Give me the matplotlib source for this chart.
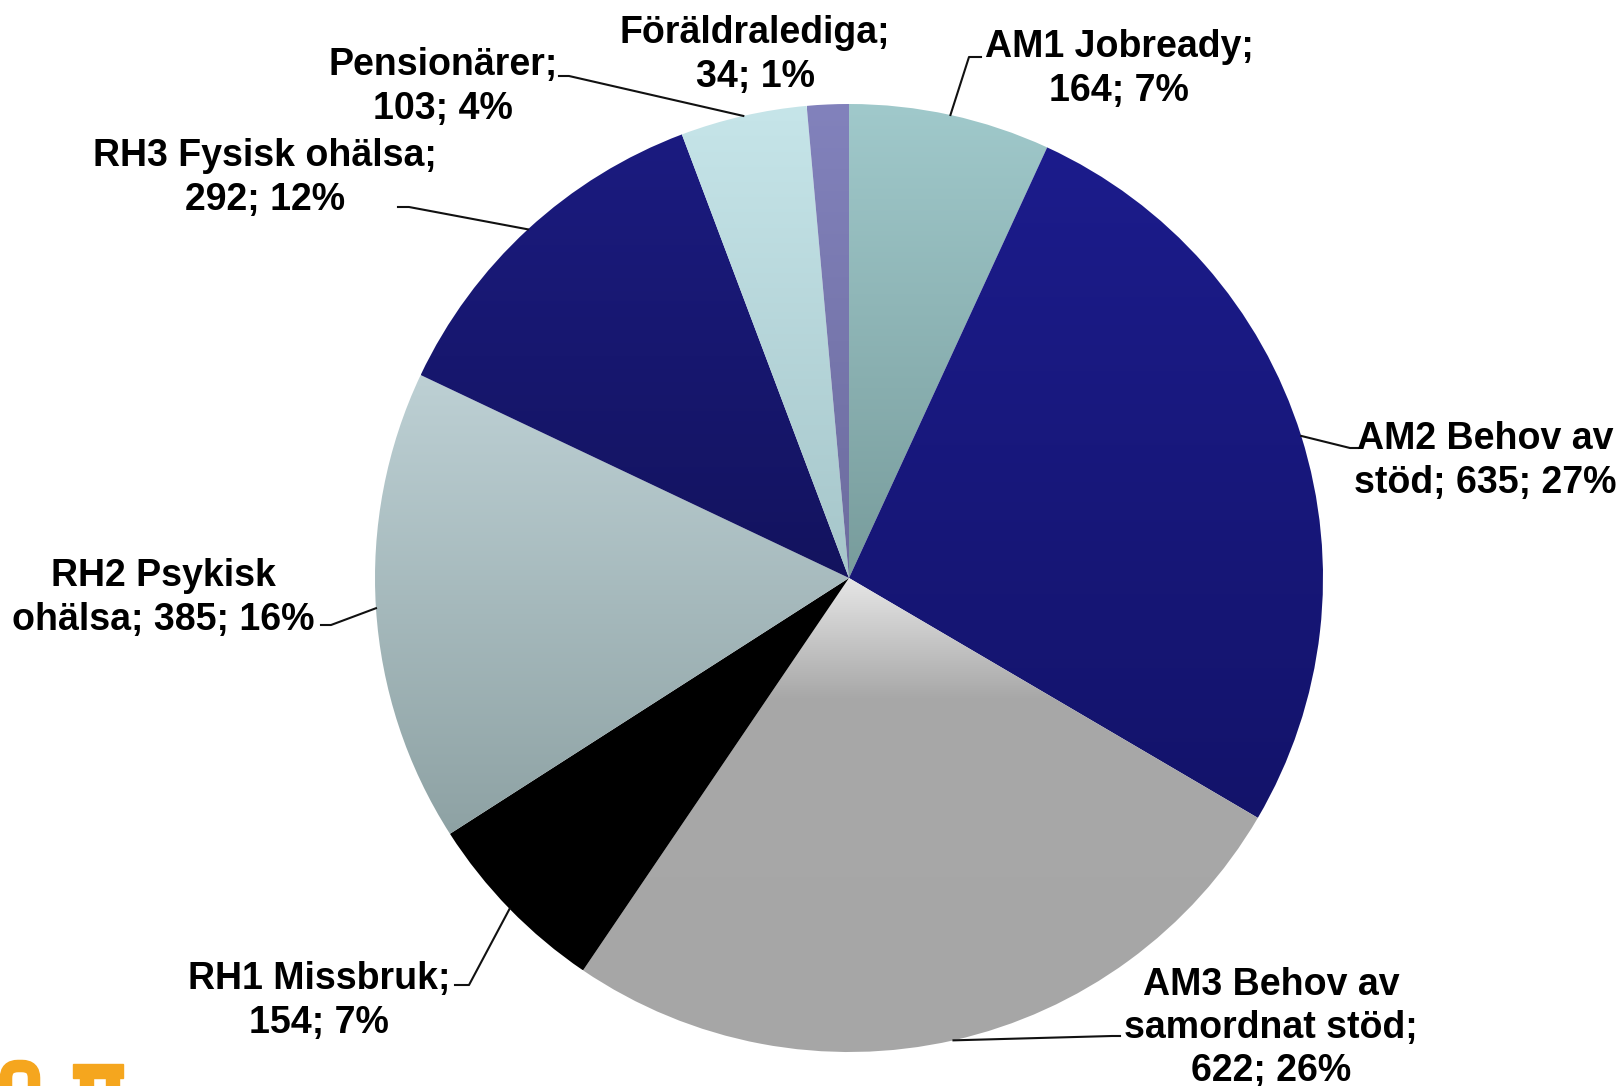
import numpy as np
import matplotlib.pyplot as plt
from matplotlib.colors import to_rgb
from matplotlib.patches import Rectangle, FancyBboxPatch

W, H = 1622, 1086

categories = ['AM1 Jobready', 'AM2 Behov av stöd', 'AM3 Behov av samordnat stöd',
              'RH1 Missbruk', 'RH2 Psykisk ohälsa', 'RH3 Fysisk ohälsa',
              'Pensionärer', 'Föräldralediga']
values = [164, 635, 622, 154, 385, 292, 103, 34]
percents = [7, 27, 26, 7, 16, 12, 4, 1]

# label text with manual line breaks like the original
label_lines = [
    ['AM1 Jobready;', '{v}; {p}%'],
    ['AM2 Behov av', 'stöd; {v}; {p}%'],
    ['AM3 Behov av', 'samordnat stöd;', '{v}; {p}%'],
    ['RH1 Missbruk;', '{v}; {p}%'],
    ['RH2 Psykisk', 'ohälsa; {v}; {p}%'],
    ['RH3 Fysisk ohälsa;', '{v}; {p}%'],
    ['Pensionärer;', '{v}; {p}%'],
    ['Föräldralediga;', '{v}; {p}%'],
]

# gradient stops (fraction from top of slice, colour)
gradients = [
    [(0, '#a0c9cb'), (1, '#789c9c')],
    [(0, '#1c1c8c'), (1, '#13136a')],
    [(0, '#e6e6e6'), (0.25, '#a8a8a8'), (1, '#a6a6a6')],
    [(0, '#000000'), (1, '#000000')],
    [(0, '#bdd0d4'), (1, '#8ea2a4')],
    [(0, '#1b1b80'), (1, '#13135e')],
    [(0, '#c6e5e9'), (1, '#a6c6ca')],
    [(0, '#8282bc'), (1, '#6c6c9e')],
]

# layout in pixel coords (y down): text centre, elbow, end of leader
label_pos = [(1119, 69), (1485, 461), (1271, 1028), (319, 1001),
             (163, 598), (265, 178), (443, 87), (755, 55)]
elbows = [(969, 57), (1350, 448), (1112, 1036), (469, 985),
          (331, 625), (409, 207), (569, 76), None]
ends = [(981, 57), (1358, 448), (1120, 1036), (455, 985),
        (321, 625), (398, 207), (559, 76), None]

cx, cy, R = 849, 578, 474

plt.rcParams['font.family'] = ['Liberation Sans', 'DejaVu Sans']

fig = plt.figure(figsize=(W / 100, H / 100), dpi=100)
ax = fig.add_axes([0, 0, 1, 1])

wedges, _ = ax.pie(values, startangle=90, counterclock=False,
                   center=(cx, H - cy), radius=R,
                   colors=['none'] * len(values),
                   wedgeprops=dict(linewidth=0))


def gradient_fill(wedge, stops):
    verts = wedge.get_path().vertices
    x0, x1 = verts[:, 0].min(), verts[:, 0].max()
    y0, y1 = verts[:, 1].min(), verts[:, 1].max()
    n = 256
    t = np.linspace(0, 1, n)  # 0 = top
    fr = [s[0] for s in stops]
    cols = np.array([to_rgb(s[1]) for s in stops])
    img = np.stack([np.interp(t, fr, cols[:, k]) for k in range(3)], axis=-1)
    img = img[:, None, :]
    im = ax.imshow(img, extent=(x0, x1, y0, y1), origin='upper',
                   aspect='auto', interpolation='bilinear', zorder=1)
    im.set_clip_path(wedge)


for w, g in zip(wedges, gradients):
    gradient_fill(w, g)

# leaders and labels
total = sum(values)
start = 90.0
for i, v in enumerate(values):
    span = 360.0 * v / total
    mid = np.deg2rad(start - span / 2)
    start -= span
    ex, ey = cx + R * np.cos(mid), cy - R * np.sin(mid)
    if elbows[i] is not None:
        xs = [ex, elbows[i][0], ends[i][0]]
        ys = [H - ey, H - elbows[i][1], H - ends[i][1]]
        ax.plot(xs, ys, color='#111111', lw=1.5, zorder=3)
    txt = '\n'.join(label_lines[i]).format(v=v, p=percents[i])
    ax.text(label_pos[i][0], H - label_pos[i][1], txt, ha='center', va='center',
            fontsize=27, fontweight='bold', linespacing=1.26, zorder=4)

# bit of the orange logo at the bottom edge
orange = '#f5a61e'
ax.add_patch(FancyBboxPatch((6, -20), 28, 40, boxstyle='round,pad=0,rounding_size=12',
                            fc='none', ec=orange, lw=9))
ax.add_patch(Rectangle((73, 8), 50, 14, color=orange))
ax.add_patch(Rectangle((80, -5), 13, 16, color=orange))
ax.add_patch(Rectangle((106, -5), 13, 16, color=orange))

ax.set_xlim(0, W)
ax.set_ylim(0, H)
ax.axis('off')

fig.savefig('out.png', dpi=100)
